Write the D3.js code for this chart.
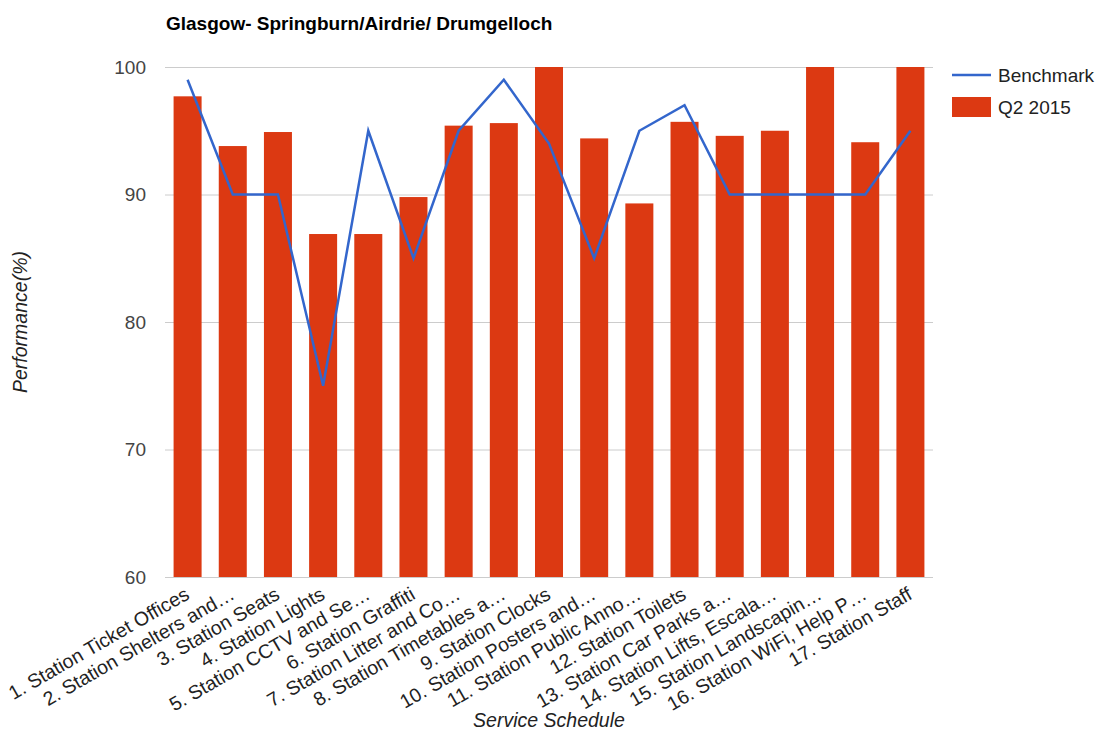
<!DOCTYPE html>
<html>
<head>
<meta charset="utf-8">
<script src="https://cdn.jsdelivr.net/npm/d3@7"></script>
<style>
  body { margin: 0; background: #fff; }
  text { font-family: "Liberation Sans", Arial, sans-serif; }
</style>
</head>
<body>
<svg id="chart" width="1098" height="733"></svg>
<script>
const categories = [
  "1. Station Ticket Offices",
  "2. Station Shelters and…",
  "3. Station Seats",
  "4. Station Lights",
  "5. Station CCTV and Se…",
  "6. Station Graffiti",
  "7. Station Litter and Co…",
  "8. Station Timetables a…",
  "9. Station Clocks",
  "10. Station Posters and…",
  "11. Station Public Anno…",
  "12. Station Toilets",
  "13. Station Car Parks a…",
  "14. Station Lifts, Escala…",
  "15. Station Landscapin…",
  "16. Station WiFi, Help P…",
  "17. Station Staff"
];
const q2Values = [97.7, 93.8, 94.9, 86.9, 86.9, 89.8, 95.4, 95.6, 100, 94.4, 89.3, 95.7, 94.6, 95.0, 100, 94.1, 100];
const benchmark = [99, 90, 90, 75, 95, 85, 95, 99, 94, 85, 95, 97, 90, 90, 90, 90, 95];
const yTicks = [60, 70, 80, 90, 100];

const svg = d3.select('#chart');
const plotLeft = 165, plotRight = 933, plotTop = 67, plotBottom = 577;

const x = d3.scaleBand()
  .domain(categories)
  .range([plotLeft, plotRight])
  .paddingInner(0.38)
  .paddingOuter(0.19);

const y = d3.scaleLinear()
  .domain([60, 100])
  .range([plotBottom, plotTop]);

// Title
svg.append('text')
  .attr('x', 166)
  .attr('y', 30)
  .style('font-size', '19px')
  .style('font-weight', 'bold')
  .style('fill', '#000')
  .text('Glasgow- Springburn/Airdrie/ Drumgelloch');

// Gridlines + y labels
const yAxis = d3.axisLeft(y)
  .tickValues(yTicks)
  .tickSize(-(plotRight - plotLeft))
  .tickPadding(19);

const gy = svg.append('g')
  .attr('transform', `translate(${plotLeft},0)`)
  .call(yAxis);
gy.select('.domain').remove();
gy.selectAll('.tick line').attr('stroke', '#cccccc');
gy.selectAll('.tick text')
  .style('font-size', '19px')
  .style('fill', '#444');

// Bars
svg.append('g')
  .selectAll('rect')
  .data(q2Values)
  .enter().append('rect')
  .attr('x', (d, i) => x(categories[i]))
  .attr('y', d => y(d))
  .attr('width', x.bandwidth())
  .attr('height', d => y(60) - y(d))
  .attr('fill', '#dc3912');

// Benchmark line
const line = d3.line()
  .x((d, i) => x(categories[i]) + x.bandwidth() / 2)
  .y(d => y(d));

svg.append('path')
  .datum(benchmark)
  .attr('d', line)
  .attr('fill', 'none')
  .attr('stroke', '#3366cc')
  .attr('stroke-width', 2.5);

// X labels
const xAxis = d3.axisBottom(x).tickSize(0).tickPadding(0);
const gx = svg.append('g')
  .attr('transform', `translate(0,${plotBottom})`)
  .call(xAxis);
gx.select('.domain').remove();
gx.selectAll('.tick text')
  .attr('text-anchor', 'end')
  .attr('dy', null)
  .attr('y', 0)
  .attr('transform', 'translate(3,21) rotate(-30)')
  .style('font-size', '19.5px')
  .style('fill', '#222');

// Axis titles
svg.append('text')
  .attr('x', (plotLeft + plotRight) / 2)
  .attr('y', 727)
  .attr('text-anchor', 'middle')
  .style('font-size', '19.5px')
  .style('font-style', 'italic')
  .style('fill', '#222')
  .text('Service Schedule');

svg.append('text')
  .attr('transform', `translate(27,${(plotTop + plotBottom) / 2}) rotate(-90)`)
  .attr('text-anchor', 'middle')
  .style('font-size', '19.5px')
  .style('font-style', 'italic')
  .style('fill', '#222')
  .text('Performance(%)');

// Legend
const legend = svg.append('g');
legend.append('line')
  .attr('x1', 952).attr('x2', 991)
  .attr('y1', 75).attr('y2', 75)
  .attr('stroke', '#3366cc')
  .attr('stroke-width', 2.5);
legend.append('text')
  .attr('x', 998).attr('y', 82)
  .style('font-size', '19px')
  .style('fill', '#222')
  .text('Benchmark');
legend.append('rect')
  .attr('x', 952).attr('y', 97)
  .attr('width', 39).attr('height', 20)
  .attr('fill', '#dc3912');
legend.append('text')
  .attr('x', 998).attr('y', 114)
  .style('font-size', '19px')
  .style('fill', '#222')
  .text('Q2 2015');
</script>
</body>
</html>
